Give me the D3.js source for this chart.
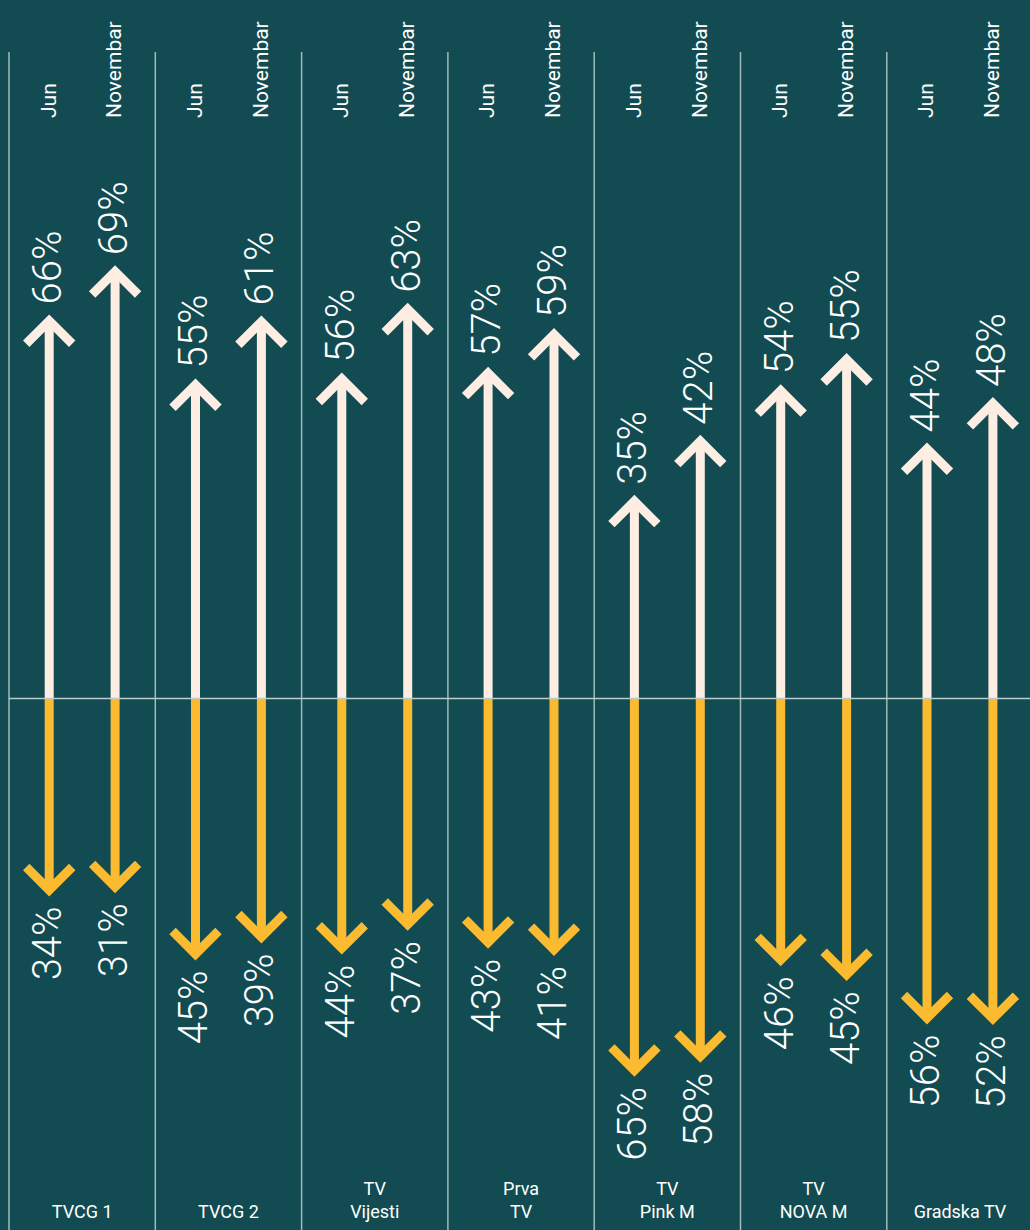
<!DOCTYPE html>
<html>
<head>
<meta charset="utf-8">
<script src="https://cdn.jsdelivr.net/npm/d3@7"></script>
<style>
    html, body { margin: 0; padding: 0; background: #124c52; }
    svg { display: block; }
    text { font-family: Roboto, 'Noto Sans', sans-serif; fill: #ffffff; }
</style>
</head>
<body>
<div id="chart"></div>
<script>
(function () {
    'use strict';

    // stations, '|' splits the label in two lines
    var stations = ['TVCG 1', 'TVCG 2', 'TV|Vijesti', 'Prva|TV', 'TV|Pink M', 'TV|NOVA M', 'Gradska TV'];
    var months = ['Jun', 'Novembar'];

    // share in %, up = cream arrows, down = yellow arrows
    var junUp = [66, 55, 56, 57, 35, 54, 44];
    var junDown = [34, 45, 44, 43, 65, 46, 56];
    var novUp = [69, 61, 63, 59, 42, 55, 48];
    var novDown = [31, 39, 37, 41, 58, 45, 52];

    var frame = { w: 1030, h: 1230 };
    var colors = {
        back: '#124c52',
        up: '#fdede3',
        down: '#fbbb31',
        grid: '#9fbcba',
        zero: '#b8cdcc'
    };

    var svg = d3.select('#chart').append('svg')
        .attr('width', frame.w)
        .attr('height', frame.h);

    svg.append('rect')
        .attr('width', frame.w)
        .attr('height', frame.h)
        .attr('fill', colors.back);

    var x = d3.scaleBand()
        .domain(stations)
        .range([9, 9 + 7 * 146.3]);

    var xm = d3.scalePoint()
        .domain(months)
        .range([0, x.bandwidth()])
        .padding(0.61);

    var zeroY = 698.5;
    var len = {
        'Jun': d3.scaleLinear().domain([0, 100]).range([0, 582]),
        'Novembar': d3.scaleLinear().domain([0, 100]).range([0, 628])
    };

    var series = [
        { month: 'Jun', up: junUp, down: junDown },
        { month: 'Novembar', up: novUp, down: novDown }
    ];

    // column separators
    svg.append('g').selectAll('line')
        .data(stations)
        .join('line')
        .attr('x1', function (d) { return x(d); })
        .attr('x2', function (d) { return x(d); })
        .attr('y1', 52)
        .attr('y2', frame.h)
        .attr('stroke', colors.grid)
        .attr('stroke-width', 1.5);

    var shaft = 9;
    var head = 23;
    var miter = shaft / 2 * Math.SQRT2;
    var line = d3.line();

    function arrow(g, ax, tipY, dir, color) {
        // dir -1 = up, 1 = down; tipY is the outer point of the head
        var apex = tipY - dir * miter;
        g.append('path')
            .attr('d', line([[ax, zeroY], [ax, apex]]))
            .attr('stroke', color)
            .attr('stroke-width', shaft)
            .attr('fill', 'none');
        g.append('path')
            .attr('d', line([[ax - head, apex - dir * head], [ax, apex], [ax + head, apex - dir * head]]))
            .attr('stroke', color)
            .attr('stroke-width', shaft)
            .attr('stroke-linejoin', 'miter')
            .attr('fill', 'none');
    }

    var arrows = svg.append('g');
    var labels = svg.append('g');

    series.forEach(function (s) {
        var scale = len[s.month];
        for (var i = 0; i < stations.length; i++) {
            var ax = x(stations[i]) + xm(s.month);
            var upTip = zeroY - scale(s.up[i]);
            var downTip = zeroY + scale(s.down[i]);

            arrow(arrows, ax, upTip, -1, colors.up);
            arrow(arrows, ax, downTip, 1, colors.down);

            labels.append('text')
                .attr('transform', 'translate(' + ax + ',' + (upTip - 10) + ') rotate(-90)')
                .attr('text-anchor', 'start')
                .attr('dy', '0.3em')
                .style('font-size', '40px')
                .style('font-weight', 300)
                .text(s.up[i] + '%');

            labels.append('text')
                .attr('transform', 'translate(' + ax + ',' + (downTip + 10) + ') rotate(-90)')
                .attr('text-anchor', 'end')
                .attr('dy', '0.3em')
                .style('font-size', '40px')
                .style('font-weight', 300)
                .text(s.down[i] + '%');

            // month on top
            labels.append('text')
                .attr('transform', 'translate(' + ax + ',118) rotate(-90)')
                .attr('text-anchor', 'start')
                .attr('dy', '0.3em')
                .style('font-size', '21px')
                .style('font-weight', 400)
                .text(s.month);
        }
    });

    // zero line
    svg.append('line')
        .attr('x1', 9)
        .attr('x2', frame.w)
        .attr('y1', zeroY)
        .attr('y2', zeroY)
        .attr('stroke', colors.zero)
        .attr('stroke-width', 1.5);

    // station names at the bottom
    var names = svg.append('g').selectAll('text')
        .data(stations)
        .join('text')
        .attr('text-anchor', 'middle')
        .style('font-size', '18px')
        .style('font-weight', 400);

    names.each(function (d) {
        var parts = d.split('|');
        var t = d3.select(this);
        var cx = x(d) + x.bandwidth() / 2;
        parts.forEach(function (p, k) {
            t.append('tspan')
                .attr('x', cx)
                .attr('y', 1218 - (parts.length - 1 - k) * 23)
                .text(p);
        });
    });
}());
</script>
</body>
</html>
